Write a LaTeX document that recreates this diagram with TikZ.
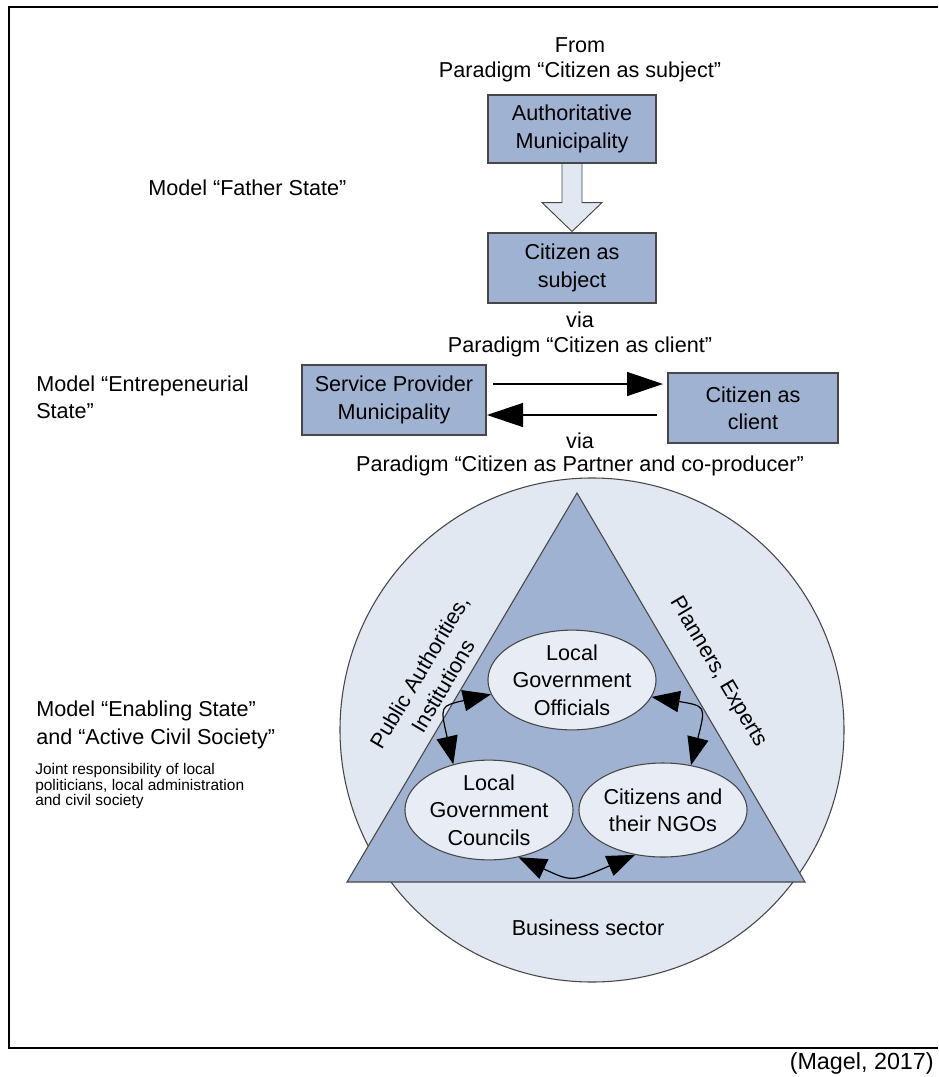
\documentclass[tikz,border=0pt]{standalone}
\usepackage{fontspec}
\setmainfont{Liberation Sans}
\usetikzlibrary{arrows.meta,calc,shapes.geometric}
\definecolor{boxblue}{RGB}{160,178,209}
\definecolor{paleblue}{RGB}{226,232,242}
\definecolor{ovalfill}{RGB}{232,237,245}
\definecolor{edgegray}{RGB}{70,70,70}
\begin{document}
\begin{tikzpicture}[x=0.75pt,y=-0.75pt,
  txt/.style={font=\fontsize{16.2}{20.5}\selectfont, inner sep=0pt, align=center},
  lefttxt/.style={txt, anchor=west, align=left},
  smalltxt/.style={font=\fontsize{11.6}{11.8}\selectfont, inner sep=0pt, anchor=west, align=left},
  bluebox/.style={txt, draw=edgegray, line width=0.8pt, fill=boxblue},
  oval/.style={txt, ellipse, draw=edgegray, line width=0.8pt, fill=ovalfill,
    minimum width=168*0.75pt, minimum height=94*0.75pt},
  bigtip/.style={-{Triangle[length=27pt,width=18pt]}, line width=1pt},
  twotip/.style={{Triangle[length=21pt,width=16pt]}-{Triangle[length=21pt,width=16pt]}, line width=0.9pt}
]
\useasboundingbox (0,0) rectangle (938,1077);
\fill[white] (0,0) rectangle (938,1077);

% outer frame (open to the right)
\draw[line width=1.5pt] (938,7) -- (9,7) -- (9,1048) -- (938,1048);
\node[txt, anchor=east, font=\fontsize{17.5}{20}\selectfont] (src) at (934,1063) {(Magel, 2017)};

% ---------- Model "Father State" ----------
\node[txt] (from1) at (580,45) {From};
\node[txt] (par1) at (580,72) {Paradigm “Citizen as subject”};
\node[bluebox, minimum width=168*0.75pt, minimum height=68*0.75pt] (auth) at (572,129)
  {Authoritative\\Municipality};
\node[bluebox, minimum width=168*0.75pt, minimum height=70*0.75pt] (subj) at (572,268)
  {Citizen as\\subject};
\draw[edgegray, line width=0.7pt, fill=paleblue]
  ($(auth.south)+(-10,0)$) -- ($(auth.south)+(10,0)$) -- ($(auth.south)+(10,39)$)
  -- ($(auth.south)+(30,39)$) -- ($(subj.north)+(0,-1)$) -- ($(auth.south)+(-30,39)$)
  -- ($(auth.south)+(-10,39)$) -- cycle;
\node[lefttxt] (mfather) at (148,188) {Model “Father State”};

% ---------- Model "Entrepreneurial State" ----------
\node[txt] (via1) at (580,320) {via};
\node[txt] (par2) at (580,347) {Paradigm “Citizen as client”};
\node[lefttxt] (mentre) at (36,397) {Model “Entrepeneurial\\State”};
\node[bluebox, minimum width=184*0.75pt, minimum height=70*0.75pt] (serv) at (394,400)
  {Service Provider\\Municipality};
\node[bluebox, minimum width=170*0.75pt, minimum height=70*0.75pt] (client) at (753,408)
  {Citizen as\\client};
\coordinate (r1) at (493,384);
\coordinate (r2) at (663,384);
\coordinate (l1) at (657,415);
\coordinate (l2) at (487,415);
\draw[bigtip] (r1) -- (r2);
\draw[bigtip] (l1) -- (l2);

% ---------- Model "Enabling State" ----------
\node[txt] (via2) at (580,441) {via};
\node[txt] (par3) at (580,466) {Paradigm “Citizen as Partner and co-producer”};

\node[circle, draw=edgegray, line width=0.8pt, fill=paleblue, minimum size=504*0.75pt,
  inner sep=0pt] (ring) at (592,730) {};
\draw[edgegray, line width=0.8pt, fill=boxblue] (577,493) coordinate (apex)
  -- (805,882) coordinate (bright) -- (347,882) coordinate (bleft) -- cycle;

\node[txt, rotate=59.4] (pub) at (431,679) {Public Authorities,\\Institutions};
\node[txt, rotate=-59.4] (plan) at (718,672) {Planners, Experts};
\node[txt] (bus) at (588,928) {Business sector};

\node[oval] (off) at (572,680) {Local\\Government\\Officials};
\node[oval] (cou) at (489,810) {Local\\Government\\Councils};
\node[oval] (ngo) at (663,810) {Citizens and\\their NGOs};

\draw[twotip] (off.190) .. controls (440,706) .. (cou.128);
\draw[twotip] (off.-12) .. controls (706,706) .. (ngo.58);
\draw[twotip] (cou.-58) .. controls (572,882) .. (ngo.-122);

\node[lefttxt] (menab) at (36,725) {Model “Enabling State”\\and “Active Civil Society”};
\node[smalltxt] (joint) at (35,786) {Joint responsibility of local\\politicians, local administration\\and civil society};
\end{tikzpicture}
\end{document}
